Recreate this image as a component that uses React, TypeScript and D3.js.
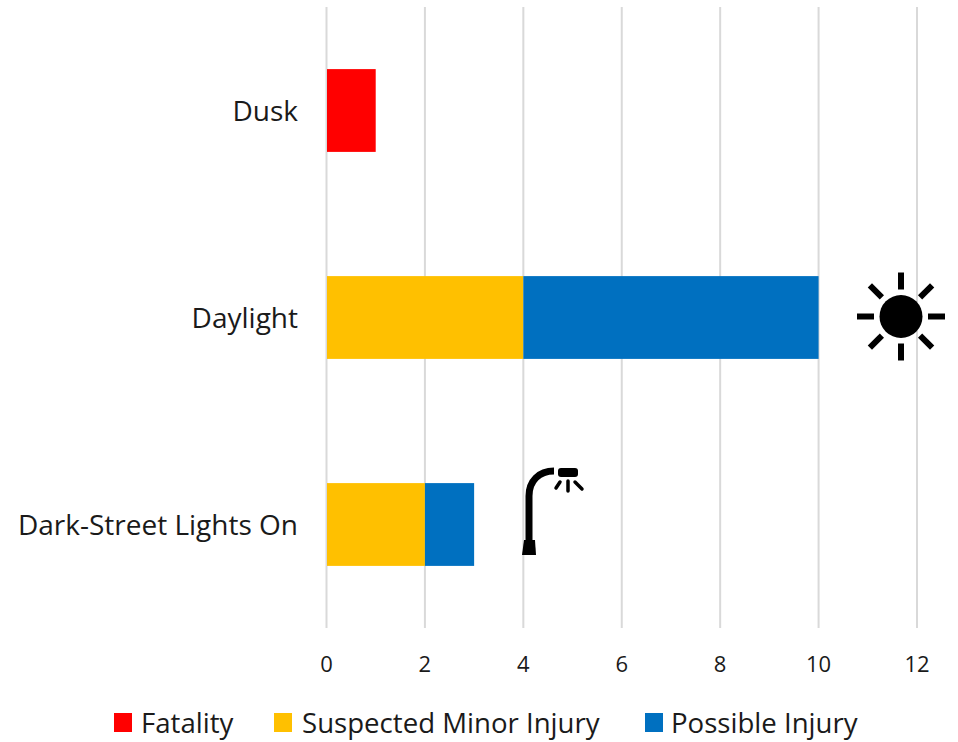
import React from "react";
import * as d3 from "d3";

const categories = ["Dusk", "Daylight", "Dark-Street Lights On"];
const seriesNames = ["Fatality", "Suspected Minor Injury", "Possible Injury"];
const seriesColors = ["#FF0000", "#FFC000", "#0070C0"];
const fatality = [1, 0, 0];
const minorInjury = [0, 4, 2];
const possibleInjury = [0, 6, 1];
const xTicks = [0, 2, 4, 6, 8, 10, 12];
const legendSwatchX = [114, 274, 645];
const legendTextX = [141, 302, 671];

const FONT = "'Open Sans', 'Noto Sans', sans-serif";

export default function App() {
  const x = d3.scaleLinear().domain([0, 12]).range([326.5, 917]);
  const y = d3.scaleBand().domain(categories).range([7, 628]).paddingInner(0.6).paddingOuter(0.3);
  const rows = categories.map((c, i) => ({
    category: c,
    [seriesNames[0]]: fatality[i],
    [seriesNames[1]]: minorInjury[i],
    [seriesNames[2]]: possibleInjury[i],
  }));
  const stacked = d3.stack<any>().keys(seriesNames)(rows);

  const sunCx = 901, sunCy = 316.5;
  const rays = d3.range(8).map((i) => (i * Math.PI) / 4);

  return (
    <svg
      width={958}
      height={742}
      style={{ position: "absolute", left: 0, top: 0, background: "#fff" }}
      fontFamily={FONT}
    >
      {xTicks.map((t) => (
        <line key={t} x1={x(t)} x2={x(t)} y1={7} y2={628} stroke="#D9D9D9" strokeWidth={2} />
      ))}
      {stacked.map((s, si) =>
        s.map((d, i) => (
          <rect
            key={si + "-" + i}
            x={x(d[0]) + (d[0] === 0 && d[1] > 0 ? 0.5 : 0)}
            y={y(categories[i])}
            width={Math.max(0, x(d[1]) - x(d[0]) - (d[0] === 0 && d[1] > 0 ? 0.5 : 0))}
            height={y.bandwidth()}
            fill={seriesColors[si]}
          />
        ))
      )}
      {categories.map((c) => (
        <text key={c} x={298} y={y(c)! + y.bandwidth() / 2 + 10} textAnchor="end" fontSize={28} fill="#1a1a1a">
          {c}
        </text>
      ))}
      {xTicks.map((t) => (
        <text key={t} x={x(t)} y={672} textAnchor="middle" fontSize={22} fill="#1a1a1a">
          {t}
        </text>
      ))}
      {seriesNames.map((n, i) => (
        <g key={n}>
          <rect x={legendSwatchX[i]} y={713} width={18} height={19} fill={seriesColors[i]} />
          <text x={legendTextX[i]} y={733} fontSize={27.6} fill="#1a1a1a">
            {n}
          </text>
        </g>
      ))}
      {/* sun icon */}
      <circle cx={sunCx} cy={sunCy} r={21.5} fill="#000" />
      {rays.map((a, i) => (
        <line
          key={i}
          x1={sunCx + 27 * Math.cos(a)}
          y1={sunCy + 27 * Math.sin(a)}
          x2={sunCx + 44 * Math.cos(a)}
          y2={sunCy + 44 * Math.sin(a)}
          stroke="#000"
          strokeWidth={6}
        />
      ))}
      {/* street lamp icon */}
      <path d="M529 545 V496 C529 481 539 471 554 471" fill="none" stroke="#000" strokeWidth={7} />
      <path d="M524 540 H535 L536 555 H522 Z" fill="#000" />
      <rect x={558} y={468} width={20} height={9} rx={3} fill="#000" />
      <path d="M568 481 V491 M560 482 L556 488 M575 482 L582 489" stroke="#000" strokeWidth={3.5} strokeLinecap="round" fill="none" />
    </svg>
  );
}
